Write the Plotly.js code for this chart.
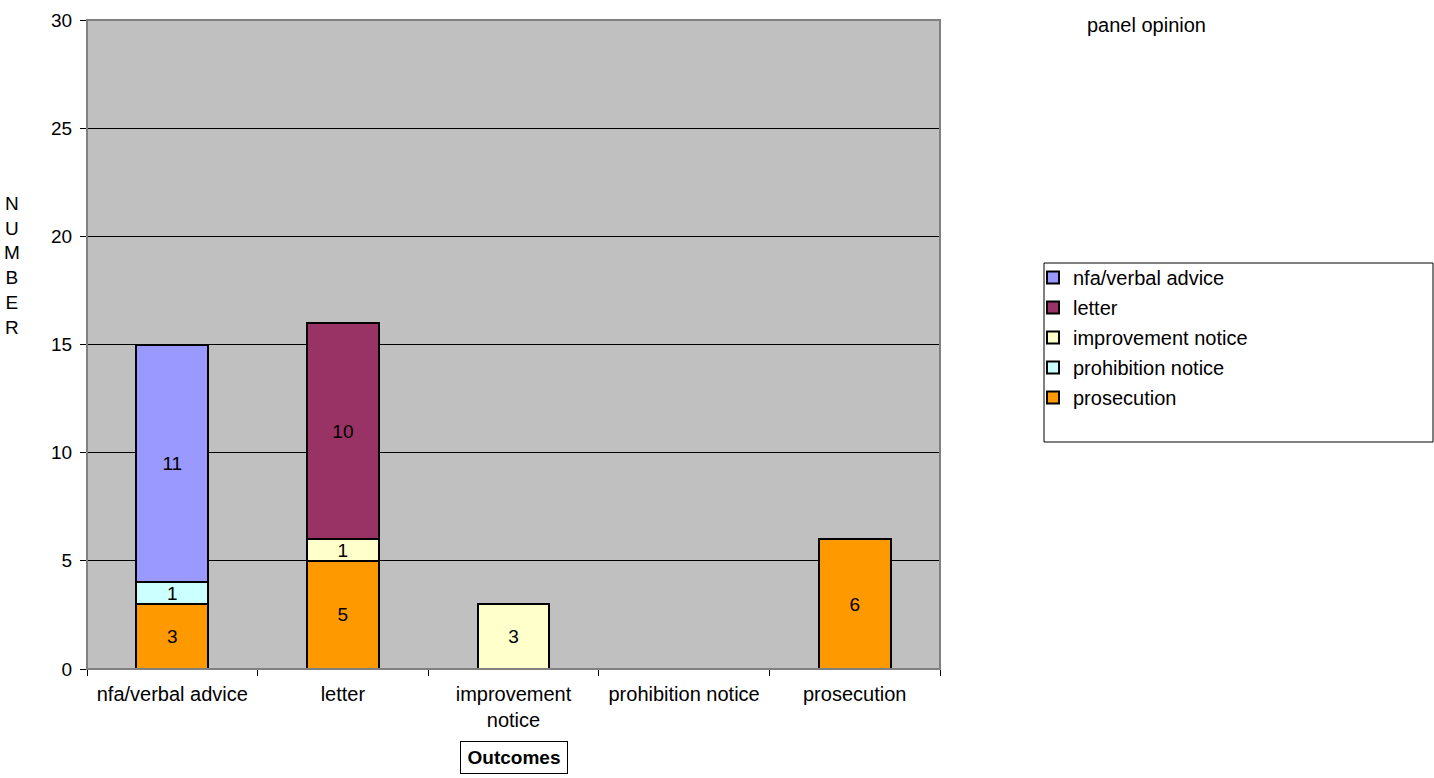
<!DOCTYPE html>
<html>
<head>
<meta charset="utf-8">
<script src="https://cdn.plot.ly/plotly-3.0.1.min.js"></script>
<style>html,body{margin:0;padding:0;background:#fff;}#chart{width:1434px;height:778px;}</style>
</head>
<body>
<div id="chart"></div>
<script>
const categories = ['nfa/verbal advice','letter','improvement notice','prohibition notice','prosecution'];
const tickLabels = ['nfa/verbal advice','letter','improvement<br>notice','prohibition notice','prosecution'];
const prosecution = [3, 5, null, null, 6];
const prohibitionNotice = [1, null, null, null, null];
const improvementNotice = [null, 1, 3, null, null];
const letter = [null, 10, null, null, null];
const nfaVerbalAdvice = [11, null, null, null, null];
const seriesNames = ['prosecution','prohibition notice','improvement notice','letter','nfa/verbal advice'];
const seriesValues = [prosecution, prohibitionNotice, improvementNotice, letter, nfaVerbalAdvice];
const seriesColors = ['#FF9900','#CCFFFF','#FFFFCC','#993366','#9999FF'];

const FONT = 'Liberation Sans, Arial, sans-serif';
const traces = seriesNames.map((n, i) => ({
  type: 'bar',
  name: n,
  x: categories,
  y: seriesValues[i],
  width: 0.42,
  legendgroup: 'g' + i,
  legendrank: seriesNames.length - i,
  marker: {color: seriesColors[i], line: {color: '#000', width: 2}},
  text: seriesValues[i].map(v => v == null ? '' : String(v)),
  textposition: 'inside',
  insidetextanchor: 'middle',
  textangle: 0,
  constraintext: 'none',
  textfont: {family: FONT, size: 19, color: '#000'},
  hoverinfo: 'x+y+name'
}));

const L = 87, R = 940, T = 20, B = 669;
const W = R - L, H = B - T;
const px = x => (x - L) / W;
const py = y => (B - y) / H;

const layout = {
  width: 1434, height: 778,
  margin: {l: L, r: 1434 - R, t: T, b: 778 - B, pad: 0},
  paper_bgcolor: '#fff',
  plot_bgcolor: '#C0C0C0',
  barmode: 'stack',
  font: {family: FONT, size: 19, color: '#000'},
  showlegend: true,
  legend: {
    x: px(1033), xanchor: 'left', y: py(258), yanchor: 'top',
    bgcolor: 'rgba(0,0,0,0)', borderwidth: 0,
    traceorder: 'grouped', tracegroupgap: 1,
    font: {family: FONT, size: 20, color: '#000'},
    itemclick: false
  },
  xaxis: {
    type: 'category',
    tickvals: categories, ticktext: tickLabels,
    tickson: 'boundaries', ticks: 'outside', ticklen: 6, tickcolor: '#000', tickwidth: 1,
    showgrid: false, showline: true, linecolor: '#000', linewidth: 1,
    tickfont: {family: FONT, size: 20, color: '#000'},
    ticklabelstandoff: 7,
    zeroline: false, fixedrange: true
  },
  yaxis: {
    range: [0, 30], dtick: 5, tick0: 0,
    ticks: 'outside', ticklen: 6, tickcolor: '#000', tickwidth: 1,
    showgrid: true, gridcolor: '#000', gridwidth: 1,
    showline: true, linecolor: '#000', linewidth: 1,
    zeroline: false,
    tickfont: {family: FONT, size: 19, color: '#000'},
    ticklabelstandoff: 4,
    fixedrange: true
  },
  shapes: [
    {type: 'rect', xref: 'paper', yref: 'paper', x0: 0, x1: 1, y0: 0, y1: 1,
     line: {color: '#808080', width: 2}, fillcolor: 'rgba(0,0,0,0)', layer: 'above'},
    {type: 'rect', xref: 'paper', yref: 'paper', x0: px(1044), x1: px(1433), y0: py(442), y1: py(263),
     line: {color: '#000', width: 1}, fillcolor: '#fff', layer: 'below'}
  ],
  annotations: [
    {text: 'N<br>U<br>M<br>B<br>E<br>R', xref: 'paper', yref: 'paper', x: px(12), y: py(265),
     xanchor: 'center', yanchor: 'middle', showarrow: false, align: 'center',
     font: {family: FONT, size: 19, color: '#000'}},
    {text: 'panel opinion', xref: 'paper', yref: 'paper', x: px(1146), y: py(25),
     xanchor: 'center', yanchor: 'middle', showarrow: false,
     font: {family: FONT, size: 20, color: '#000'}},
    {text: '<b>Outcomes</b>', xref: 'paper', yref: 'paper', x: px(514), y: py(757),
     xanchor: 'center', yanchor: 'middle', showarrow: false,
     width: 106, height: 31, borderpad: 0, borderwidth: 1, bordercolor: '#000', bgcolor: '#fff',
     font: {family: FONT, size: 19, color: '#000'}}
  ]
};

Plotly.newPlot('chart', traces, layout, {displayModeBar: false, staticPlot: true});
</script>
</body>
</html>
